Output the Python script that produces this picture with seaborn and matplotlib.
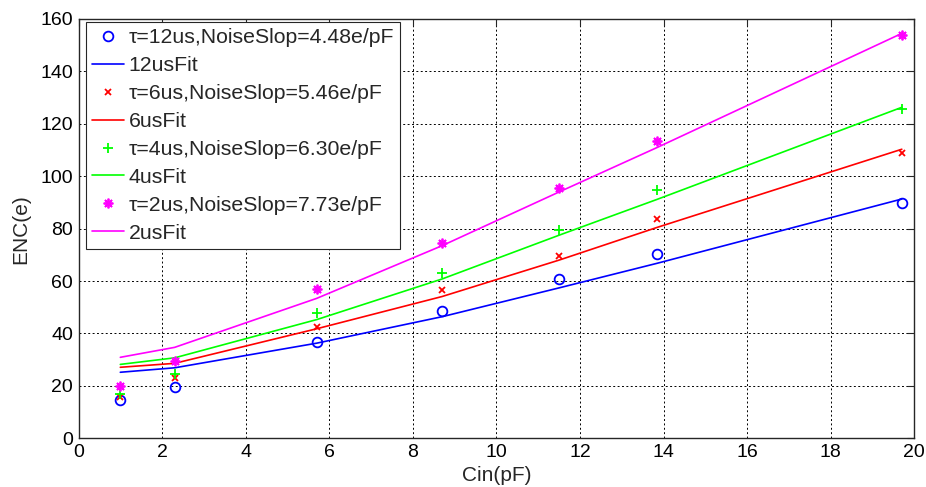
import numpy as np
import pandas as pd
import matplotlib
matplotlib.use("Agg")
import matplotlib.pyplot as plt
import seaborn as sns

# input capacitance (pF)
cin = [1.0, 2.3, 5.7, 8.7, 11.5, 13.85, 19.7]

# measured ENC (e) for each shaping time
enc_12us = [14.7, 19.7, 36.6, 48.4, 60.6, 70.5, 89.6]
enc_6us = [15.6, 22.9, 42.6, 56.6, 69.6, 83.5, 108.9]
enc_4us = [16.9, 24.6, 47.8, 63.0, 79.4, 94.7, 125.8]
enc_2us = [19.8, 29.6, 57.0, 74.5, 95.5, 113.5, 154.0]

# fitted ENC (e)
fit_12us = [25.2, 26.9, 36.3, 46.4, 57.4, 66.8, 91.3]
fit_6us = [27.1, 28.6, 41.8, 54.1, 68.0, 80.5, 110.3]
fit_4us = [28.2, 30.7, 45.3, 60.8, 77.5, 91.2, 126.3]
fit_2us = [30.9, 34.7, 53.4, 73.5, 94.0, 111.0, 154.5]

point_labels = [u"\u03c4=12us,NoiseSlop=4.48e/pF", u"\u03c4=6us,NoiseSlop=5.46e/pF",
                u"\u03c4=4us,NoiseSlop=6.30e/pF", u"\u03c4=2us,NoiseSlop=7.73e/pF"]
fit_labels = ["12usFit", "6usFit", "4usFit", "2usFit"]
colors = ["#0000ff", "#ff0000", "#00ff00", "#ff00ff"]
markers = ["o", "x", "+", (8, 2, 0)]  # last one: matlab style asterisk
msizes = [7, 5, 7.5, 7]

sns.set_theme(style="white")
plt.rcParams["font.family"] = ["Liberation Sans", "DejaVu Sans"]

fig = plt.figure(figsize=(9.26, 4.87), dpi=100)
ax = fig.add_axes([0.0848, 0.100, 0.9026, 0.861])

measured = [enc_12us, enc_6us, enc_4us, enc_2us]
fits = [fit_12us, fit_6us, fit_4us, fit_2us]

for i in range(4):
    df = pd.DataFrame({"cin": cin, "enc": measured[i], "fit": fits[i]})
    mfc = "none" if markers[i] == "o" else colors[i]
    sns.lineplot(data=df, x="cin", y="enc", ax=ax, color=colors[i], linestyle="none",
                 marker=markers[i], markersize=msizes[i], markerfacecolor=mfc,
                 markeredgecolor=colors[i], markeredgewidth=1.3, label=point_labels[i])
    sns.lineplot(data=df, x="cin", y="fit", ax=ax, color=colors[i], linewidth=1.2,
                 label=fit_labels[i])

ax.set_xlim(0, 20)
ax.set_ylim(0, 160)
ax.set_xticks(np.arange(0, 21, 2))
ax.set_yticks(np.arange(0, 161, 20))
ax.grid(True, color="black", linestyle=(0, (2, 2.5)), linewidth=0.7)
ax.tick_params(direction="in", length=5, width=0.8, labelsize=14, top=True, right=True,
               colors="#262626", labelcolor="black", pad=4)
for s in ax.spines.values():
    s.set_color("#262626")
    s.set_linewidth(1.0)
ax.set_xlabel("Cin(pF)", fontsize=15)
ax.set_ylabel("ENC(e)", fontsize=15)
ax.xaxis.set_label_coords(0.5, -0.066)
ax.yaxis.set_label_coords(-0.058, 0.5)

leg = ax.legend(loc="upper left", bbox_to_anchor=(0.009, 0.993), fontsize=15.3,
                frameon=True, fancybox=False, edgecolor="#262626", framealpha=1,
                borderaxespad=0, handlelength=1.5, handletextpad=0.2,
                labelspacing=0.42, borderpad=0.3)
leg.get_frame().set_linewidth(0.8)

fig.savefig("out.png", dpi=100)
